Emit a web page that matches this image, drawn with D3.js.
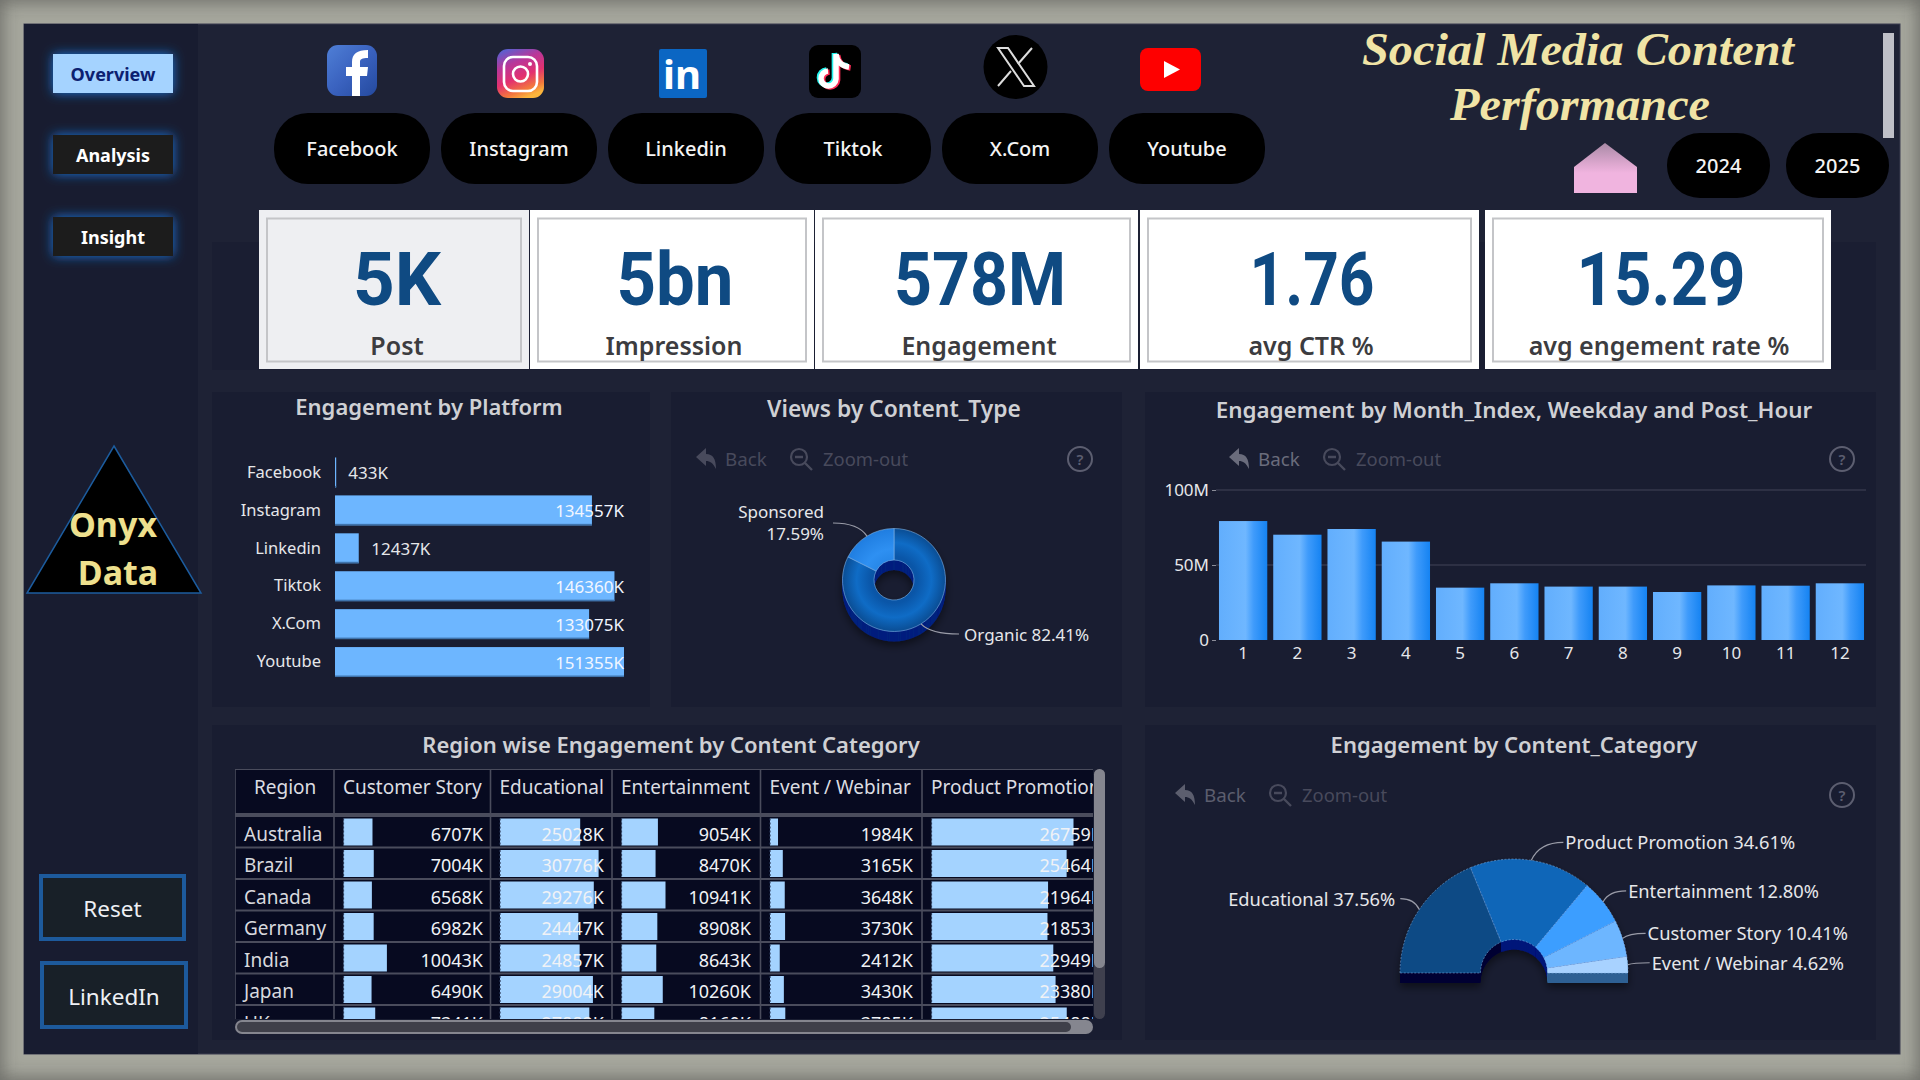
<!DOCTYPE html>
<html>
<head>
<meta charset="utf-8">
<script src="https://cdn.jsdelivr.net/npm/d3@7"></script>
<style>
  html, body { margin: 0; padding: 0; background: #a2a39a; }
  svg { display: block; }
  text { font-family: "Noto Sans", sans-serif; }
</style>
</head>
<body>
<script>
//------------------------1. DATA------------------------/
const navButtons = ["Overview", "Analysis", "Insight"];
const platformButtons = ["Facebook", "Instagram", "Linkedin", "Tiktok", "X.Com", "Youtube"];
const yearButtons = ["2024", "2025"];

const kpiValues = ["5K", "5bn", "578M", "1.76", "15.29"];
const kpiLabels = ["Post", "Impression", "Engagement", "avg CTR %", "avg engement rate %"];

const platforms = ["Facebook", "Instagram", "Linkedin", "Tiktok", "X.Com", "Youtube"];
const platformEngagement = [433, 134557, 12437, 146360, 133075, 151355]; // K

const contentTypes = ["Organic", "Sponsored"];
const contentTypeShare = [82.41, 17.59];

const months = [1, 2, 3, 4, 5, 6, 7, 8, 9, 10, 11, 12];
const monthEngagement = [79.3, 70.2, 74, 65.6, 34.9, 37.8, 35.6, 35.6, 32, 36.4, 36.2, 37.8]; // M
const monthTicks = [0, 50, 100];

const categories = ["Educational", "Product Promotion", "Entertainment", "Customer Story", "Event / Webinar"];
const categoryShare = [37.56, 34.61, 12.80, 10.41, 4.62];

const regions = ["Australia", "Brazil", "Canada", "Germany", "India", "Japan", "UK"];
const tableColumns = ["Customer Story", "Educational", "Entertainment", "Event / Webinar", "Product Promotion"];
const customerStory = [6707, 7004, 6568, 6982, 10043, 6490, 7341];
const educational = [25028, 30776, 29276, 24447, 24857, 29004, 27882];
const entertainment = [9054, 8470, 10941, 8908, 8643, 10260, 8160];
const eventWebinar = [1984, 3165, 3648, 3730, 2412, 3430, 3785];
const productPromotion = [26759, 25464, 21964, 21853, 22949, 23380, 25488];
const tableValues = [customerStory, educational, entertainment, eventWebinar, productPromotion];

//------------------------2. SVG + DEFS------------------------/
const svg = d3.select("body").append("svg")
  .attr("width", 1920)
  .attr("height", 1080)
  .attr("viewBox", "0 0 1920 1080");

const defs = svg.append("defs");

function addLinear(id, x1, y1, x2, y2, stops) {
  const g = defs.append("linearGradient").attr("id", id)
    .attr("x1", x1).attr("y1", y1).attr("x2", x2).attr("y2", y2);
  stops.forEach(s => g.append("stop").attr("offset", s[0]).attr("stop-color", s[1]));
}

function addRadial(id, r, stops) {
  const g = defs.append("radialGradient").attr("id", id)
    .attr("gradientUnits", "userSpaceOnUse")
    .attr("cx", 0).attr("cy", 0).attr("r", r);
  stops.forEach(s => g.append("stop").attr("offset", s[0]).attr("stop-color", s[1]));
}

addLinear("barGrad", 0, 0, 1, 0, [[0, "#62aefd"], [0.55, "#6fb7ff"], [0.72, "#3f9bfb"], [1, "#1583f2"]]);
addLinear("homeGrad", 0, 0, 0, 1, [[0, "#a98aa6"], [0.4, "#dba6cd"], [0.6, "#f0b4df"], [1, "#f0b4df"]]);
addLinear("instaGrad", 0.2, 0, 0.6, 1, [[0, "#5a5fd0"], [0.3, "#b8379a"], [0.6, "#e3316f"], [0.85, "#f3793c"], [1, "#fbb53c"]]);
addLinear("fbGrad", 0, 0, 1, 1, [[0, "#4f7fd6"], [0.5, "#3a62bf"], [1, "#24499e"]]);
addLinear("eventSide", 0, 0, 0, 1, [[0, "#4c86bd"], [1, "#2c5f92"]]);
addRadial("organicGrad", 52, [[0, "#0a4f9c"], [0.45, "#0a56a8"], [0.72, "#0f6cc6"], [1, "#0a4c92"]]);
addRadial("sponsoredGrad", 52, [[0, "#1b78d8"], [0.6, "#2e90f2"], [1, "#1f7de0"]]);

const glow = defs.append("filter").attr("id", "glow")
  .attr("x", "-30%").attr("y", "-60%").attr("width", "160%").attr("height", "220%");
glow.append("feDropShadow").attr("dx", 0).attr("dy", 0)
  .attr("stdDeviation", 6).attr("flood-color", "#1c78e0").attr("flood-opacity", 0.95);

const shadow = defs.append("filter").attr("id", "shadow")
  .attr("x", "-30%").attr("y", "-30%").attr("width", "160%").attr("height", "160%");
shadow.append("feDropShadow").attr("dx", 0).attr("dy", 4)
  .attr("stdDeviation", 4).attr("flood-color", "#000").attr("flood-opacity", 0.5);

const vignette = defs.append("filter").attr("id", "vignette")
  .attr("x", "-10%").attr("y", "-10%").attr("width", "120%").attr("height", "120%");
vignette.append("feGaussianBlur").attr("stdDeviation", 9);

defs.append("clipPath").attr("id", "platformClip").append("rect")
  .attr("x", 212).attr("y", 440).attr("width", 413).attr("height", 250);
defs.append("clipPath").attr("id", "tableClip").append("rect")
  .attr("x", 235).attr("y", 769).attr("width", 858).attr("height", 250);

//-----------------------------BACKDROP-----------------------------//
svg.append("rect").attr("width", 1920).attr("height", 1080).attr("fill", "#a6a79d");
svg.append("rect").attr("x", -8).attr("y", -8).attr("width", 1936).attr("height", 1096)
  .attr("fill", "none").attr("stroke", "#333").attr("stroke-width", 20)
  .attr("opacity", 0.5).attr("filter", "url(#vignette)");

svg.append("rect").attr("x", 24).attr("y", 24).attr("width", 1876).attr("height", 1030).attr("fill", "#1e2235")
  .attr("stroke", "#3a3d50").attr("stroke-width", 1);
svg.append("rect").attr("x", 24).attr("y", 24).attr("width", 174).attr("height", 1030).attr("fill", "#181c30");

// panels
svg.append("rect").attr("x", 212).attr("y", 242).attr("width", 1664).attr("height", 128).attr("fill", "#1a1e32");
[[212, 392, 438, 315], [671, 392, 451, 315], [1145, 392, 731, 315], [212, 725, 910, 315], [1145, 725, 731, 315]]
  .forEach(p => svg.append("rect").attr("x", p[0]).attr("y", p[1]).attr("width", p[2]).attr("height", p[3]).attr("fill", "#191d31"));

//-----------------------------SIDEBAR-----------------------------//
const navY = [54, 135, 217];
navButtons.forEach((b, i) => {
  svg.append("rect").attr("x", 53).attr("y", navY[i]).attr("width", 120).attr("height", 39)
    .attr("fill", i === 0 ? "#a5d3ff" : "#1b1b1e").attr("filter", "url(#glow)");
  svg.append("text").attr("x", 113).attr("y", navY[i] + 27).attr("text-anchor", "middle")
    .attr("font-size", 18).attr("font-weight", 700).attr("fill", i === 0 ? "#0c2070" : "#fff").text(b);
});

svg.append("path").attr("d", d3.line()([[114, 446], [201, 593], [27, 593]]) + "Z")
  .attr("fill", "#000").attr("stroke", "#1c5c9e").attr("stroke-width", 1.5);
svg.append("text").attr("x", 113).attr("y", 537).attr("text-anchor", "middle")
  .attr("font-size", 34).attr("font-weight", 700).attr("fill", "#eee08e").text("Onyx");
svg.append("text").attr("x", 118).attr("y", 585).attr("text-anchor", "middle")
  .attr("font-size", 34).attr("font-weight", 700).attr("fill", "#eee08e").text("Data");

[["Reset", 41, 876, 143, 63], ["LinkedIn", 42, 963, 144, 64]].forEach(b => {
  svg.append("rect").attr("x", b[1]).attr("y", b[2]).attr("width", b[3]).attr("height", b[4])
    .attr("fill", "#182028").attr("stroke", "#1d5a9c").attr("stroke-width", 4);
  svg.append("text").attr("x", b[1] + b[3] / 2).attr("y", b[2] + b[4] / 2 + 9.5).attr("text-anchor", "middle")
    .attr("font-size", 22.5).attr("fill", "#eef0f4").text(b[0]);
});

//-----------------------------ICONS-----------------------------//
// facebook
svg.append("rect").attr("x", 327).attr("y", 45).attr("width", 50).attr("height", 51).attr("rx", 11).attr("fill", "url(#fbGrad)");
svg.append("path").attr("d", "M352 96V76H346V67H352V62C352 54 357 50 368 50V58C362 58 360 59 360 62V67H368L367 76H360V96Z").attr("fill", "#fff");
// instagram
svg.append("rect").attr("x", 497).attr("y", 49).attr("width", 47).attr("height", 49).attr("rx", 11).attr("fill", "url(#instaGrad)");
svg.append("rect").attr("x", 504).attr("y", 57).attr("width", 33).attr("height", 34).attr("rx", 9).attr("fill", "none").attr("stroke", "#fff").attr("stroke-width", 2.6);
svg.append("circle").attr("cx", 520.5).attr("cy", 74).attr("r", 7.5).attr("fill", "none").attr("stroke", "#fff").attr("stroke-width", 2.6);
svg.append("circle").attr("cx", 530).attr("cy", 64).attr("r", 2).attr("fill", "#fff");
// linkedin
svg.append("rect").attr("x", 659).attr("y", 49).attr("width", 48).attr("height", 49).attr("rx", 2).attr("fill", "#0b66c3");
svg.append("text").attr("x", 682).attr("y", 89).attr("text-anchor", "middle").attr("font-size", 40).attr("font-weight", 700).attr("fill", "#fff").text("in");
// tiktok
svg.append("rect").attr("x", 809).attr("y", 45).attr("width", 52).attr("height", 53).attr("rx", 9).attr("fill", "#000");
const noteShape = "M836 54V79A7.5 7.5 0 1 1 828 71M836 54C837 62 842 66 849 67";
[["#25f4ee", -1.6, -1], ["#fe2c55", 1.6, 1], ["#fff", 0, 0]].forEach(n => {
  svg.append("path").attr("d", noteShape).attr("fill", "none").attr("stroke", n[0]).attr("stroke-width", 5.5)
    .attr("transform", "translate(" + n[1] + "," + n[2] + ")");
});
// x
svg.append("ellipse").attr("cx", 1015.5).attr("cy", 67).attr("rx", 32).attr("ry", 32).attr("fill", "#000");
svg.append("path").attr("d", "M998 48H1008L1034 86H1024Z").attr("fill", "none").attr("stroke", "#ddd").attr("stroke-width", 2);
svg.append("path").attr("d", "M1032 48L1018 64M1011 71L998 86").attr("fill", "none").attr("stroke", "#ddd").attr("stroke-width", 2);
// youtube
svg.append("rect").attr("x", 1140).attr("y", 48).attr("width", 61).attr("height", 43).attr("rx", 8).attr("fill", "#fe0000");
svg.append("path").attr("d", "M1164 61L1180 69.5L1164 78Z").attr("fill", "#fff");

//-----------------------------SLICERS-----------------------------//
const platformPillX = [274, 441, 608, 775, 942, 1109];
platformButtons.forEach((b, i) => {
  svg.append("rect").attr("x", platformPillX[i]).attr("y", 113).attr("width", 156).attr("height", 71)
    .attr("rx", 34).attr("ry", 34).attr("fill", "#000");
  svg.append("text").attr("x", platformPillX[i] + 78).attr("y", 156).attr("text-anchor", "middle")
    .attr("font-size", 20).attr("font-weight", 500).attr("fill", "#f4f4f4").text(b);
});

const yearPillX = [1667, 1786];
yearButtons.forEach((b, i) => {
  svg.append("rect").attr("x", yearPillX[i]).attr("y", 133).attr("width", 103).attr("height", 65)
    .attr("rx", 33).attr("ry", 32).attr("fill", "#000");
  svg.append("text").attr("x", yearPillX[i] + 51.5).attr("y", 173).attr("text-anchor", "middle")
    .attr("font-size", 20).attr("font-weight", 500).attr("fill", "#f4f4f4").text(b);
});

svg.append("path").attr("d", "M1605 143L1637 167V193H1574V167Z").attr("fill", "url(#homeGrad)");

svg.append("rect").attr("x", 1883).attr("y", 33).attr("width", 11).attr("height", 105).attr("fill", "#bfc0c8");

const titleFont = '"Liberation Serif", serif';
[["Social Media Content", 1578, 65, 432], ["Performance", 1580, 120, 260]].forEach(t => {
  svg.append("text").attr("x", t[1]).attr("y", t[2]).attr("text-anchor", "middle")
    .style("font-family", titleFont).style("font-style", "italic").style("font-weight", 700)
    .attr("font-size", 47).attr("fill", "#f0e4a6")
    .attr("textLength", t[3]).attr("lengthAdjust", "spacingAndGlyphs").text(t[0]);
});

//-----------------------------KPI CARDS-----------------------------//
const kpiBoxes = [[259, 270], [530, 284], [815, 323], [1140, 339], [1485, 346]];
const kpiValueX = [397, 675, 980, 1312, 1661];
const kpiValueW = [88, 117, 172, 125, 169];
const kpiLabelX = [397, 674, 979, 1311, 1659];
kpiValues.forEach((v, i) => {
  const box = kpiBoxes[i];
  svg.append("rect").attr("x", box[0]).attr("y", 210).attr("width", box[1]).attr("height", 159)
    .attr("fill", i === 0 ? "#eeeff2" : "#fff");
  svg.append("rect").attr("x", box[0] + 8).attr("y", 218.5).attr("width", box[1] - 16).attr("height", 143)
    .attr("fill", "none").attr("stroke", "#c4c5c8").attr("stroke-width", 2);
  svg.append("text").attr("x", kpiValueX[i]).attr("y", 305).attr("text-anchor", "middle")
    .style("font-family", "Roboto, sans-serif").style("font-weight", 700)
    .attr("font-size", 74).attr("fill", "#0f4a82")
    .attr("textLength", kpiValueW[i]).attr("lengthAdjust", "spacingAndGlyphs").text(v);
  svg.append("text").attr("x", kpiLabelX[i]).attr("y", 355).attr("text-anchor", "middle")
    .attr("font-size", 25).attr("font-weight", 600).attr("fill", "#3c3c40").text(kpiLabels[i]);
});

//-----------------------------HELPERS-----------------------------//
function chartTitle(label, cx, y, size) {
  svg.append("text").attr("x", cx).attr("y", y).attr("text-anchor", "middle")
    .attr("font-size", size || 22).attr("font-weight", 600).attr("fill", "#cfd0d4").text(label);
}

function toolbar(x, y, helpX, backColor) {
  const g = svg.append("g").attr("transform", "translate(" + x + "," + y + ")");
  g.append("path").attr("d", "M0 -2L10 -11V-5C17 -5 20 0 20 10C17 4 14 2 10 2V7Z").attr("fill", backColor);
  g.append("text").attr("x", 29).attr("y", 6.5).attr("font-size", 18.8).attr("fill", backColor).text("Back");
  g.append("circle").attr("cx", 103).attr("cy", -2).attr("r", 8).attr("fill", "none").attr("stroke", "#484a5c").attr("stroke-width", 2.2);
  g.append("path").attr("d", "M99 -2H107M109 4L116 11").attr("stroke", "#484a5c").attr("stroke-width", 2.4).attr("fill", "none");
  g.append("text").attr("x", 127).attr("y", 6.5).attr("font-size", 18.4).attr("fill", "#484a5c").text("Zoom-out");
  const h = svg.append("g").attr("transform", "translate(" + helpX + "," + y + ")");
  h.append("circle").attr("r", 12).attr("fill", "none").attr("stroke", "#5c5e70").attr("stroke-width", 2);
  h.append("text").attr("y", 5.5).attr("text-anchor", "middle").attr("font-size", 15).attr("font-weight", 600).attr("fill", "#5c5e70").text("?");
}

function leader(x1, y1, x2, y2) {
  // curved leader line from a slice edge to its label
  svg.append("path").attr("d", "M" + x1 + " " + y1 + "Q" + (x1 + (x2 - x1) * 0.25) + " " + y2 + " " + x2 + " " + y2)
    .attr("fill", "none").attr("stroke", "#9a9ca8").attr("stroke-width", 1.2);
}

function sliceLabel(lines, x, y, anchor, size) {
  lines.forEach((l, i) => {
    svg.append("text").attr("x", x).attr("y", y + i * 22).attr("text-anchor", anchor)
      .attr("font-size", size).attr("fill", "#e6e7ea").text(l);
  });
}

//-----------------------------ENGAGEMENT BY PLATFORM-----------------------------//
chartTitle("Engagement by Platform", 429, 415);

const platformY = d3.scaleBand().domain(platforms).range([453.5, 681]).paddingInner(0.21).paddingOuter(0.105);
const platformX = d3.scaleLinear().domain([0, d3.max(platformEngagement)]).range([335, 624]);

const platformAxis = svg.append("g").attr("transform", "translate(335,0)")
  .call(d3.axisLeft(platformY).tickSize(0).tickPadding(14));
platformAxis.select(".domain").remove();
platformAxis.selectAll("text").style("font-family", '"Noto Sans", sans-serif').attr("font-size", 16.5).attr("fill", "#e6e7ea");

const platformRows = svg.append("g").attr("clip-path", "url(#platformClip)");
platforms.forEach((p, i) => {
  const v = platformEngagement[i];
  const x1 = platformX(v);
  platformRows.append("rect").attr("x", platformX(0)).attr("y", platformY(p))
    .attr("width", Math.max(x1 - platformX(0), 1.2)).attr("height", platformY.bandwidth())
    .attr("fill", "#6db6ff");
  platformRows.append("rect").attr("x", platformX(0)).attr("y", platformY(p) + platformY.bandwidth() - 1.5)
    .attr("width", Math.max(x1 - platformX(0), 1.2)).attr("height", 1.5).attr("fill", "#3f74ad");
  const inside = x1 - platformX(0) > 100;
  platformRows.append("text")
    .attr("x", inside ? 624 : x1 + 12.5)
    .attr("y", platformY(p) + platformY.bandwidth() / 2 + 6.5)
    .attr("text-anchor", inside ? "end" : "start")
    .attr("font-size", 17).attr("fill", inside ? "#f2f6ff" : "#e6e7ea").text(v + "K");
});

//-----------------------------VIEWS BY CONTENT TYPE-----------------------------//
chartTitle("Views by Content_Type", 894, 417, 22.8);
toolbar(696, 459, 1080, "#484a5c");

const typePie = d3.pie().sort(null)(contentTypeShare);
const typeArc = d3.arc().innerRadius(20).outerRadius(51.5);
const typeG = svg.append("g").attr("transform", "translate(894,580)");
const typeBase = typeG.append("g").attr("filter", "url(#shadow)");
d3.range(10, 0, -1).forEach(dy => {
  typeBase.append("path").attr("d", typeArc({ startAngle: 0, endAngle: 2 * Math.PI }))
    .attr("transform", "translate(0," + dy + ")").attr("fill", "#04207e");
});
typeG.selectAll("path.slice").data(typePie).enter().append("path")
  .attr("class", "slice").attr("d", typeArc)
  .attr("fill", (d, i) => i === 0 ? "url(#organicGrad)" : "url(#sponsoredGrad)")
  .attr("stroke", "#7fb4e6").attr("stroke-width", 0.6);

// leaders start on the slice edge at its mid angle
const typeEdge = typePie.map(d => d3.pointRadial((d.startAngle + d.endAngle) / 2, 51.5));
leader(894 + typeEdge[1][0], 580 + typeEdge[1][1], 833, 523);
leader(894 + typeEdge[0][0], 580 + typeEdge[0][1], 959, 634);
sliceLabel([contentTypes[1], d3.format(".2f")(contentTypeShare[1]) + "%"], 824, 518, "end", 17);
sliceLabel([contentTypes[0] + " " + d3.format(".2f")(contentTypeShare[0]) + "%"], 964, 641, "start", 17);

//-----------------------------ENGAGEMENT BY MONTH-----------------------------//
chartTitle("Engagement by Month_Index, Weekday and Post_Hour", 1514, 418, 22.4);
toolbar(1229, 459, 1842, "#6a6c7c");

const monthX = d3.scaleBand().domain(months).range([1216, 1867]).paddingInner(0.11).paddingOuter(0.055);
const monthY = d3.scaleLinear().domain([0, 100]).range([640, 490]);

svg.append("g").selectAll("line").data(monthTicks.slice(1)).enter().append("line")
  .attr("x1", 1216).attr("x2", 1866)
  .attr("y1", d => monthY(d)).attr("y2", d => monthY(d))
  .attr("stroke", "#34374b").attr("stroke-width", 1.4);

const monthYAxis = svg.append("g").attr("transform", "translate(1216,0)")
  .call(d3.axisLeft(monthY).tickValues(monthTicks).tickSize(4).tickPadding(3).tickFormat(d => d ? d + "M" : "0"));
monthYAxis.select(".domain").remove();
monthYAxis.selectAll("line").attr("stroke", "#8a8c98");
monthYAxis.selectAll("text").style("font-family", '"Noto Sans", sans-serif').attr("font-size", 17).attr("fill", "#e6e7ea");

const monthXAxis = svg.append("g").attr("transform", "translate(0,640)")
  .call(d3.axisBottom(monthX).tickSize(0).tickPadding(7));
monthXAxis.select(".domain").remove();
monthXAxis.selectAll("text").style("font-family", '"Noto Sans", sans-serif').attr("font-size", 17).attr("fill", "#e6e7ea");

svg.append("g").selectAll("rect").data(monthEngagement).enter().append("rect")
  .attr("x", (d, i) => monthX(months[i]))
  .attr("y", d => monthY(d))
  .attr("width", monthX.bandwidth())
  .attr("height", d => monthY(0) - monthY(d))
  .attr("fill", "url(#barGrad)");

//-----------------------------REGION TABLE-----------------------------//
chartTitle("Region wise Engagement by Content Category", 671, 753);

const colEdges = [235, 334, 490.5, 612, 760.5, 922, 1093];
const colBarMax = [43.4, 98.6, 44, 15.3, 142];
const colTextRight = [483, 604, 751, 913, 1102];
const rowY = d3.scaleBand().domain(regions).range([816, 816 + 31.5 * regions.length]);

svg.append("rect").attr("x", 235).attr("y", 769).attr("width", 858).attr("height", 250).attr("fill", "#070a20");

const table = svg.append("g").attr("clip-path", "url(#tableClip)");

tableValues.forEach((vals, c) => {
  const barX = colEdges[c + 1] + 9.5;
  const xs = d3.scaleLinear().domain([0, d3.max(vals)]).range([0, colBarMax[c]]);
  vals.forEach((v, r) => {
    const y = rowY(regions[r]);
    table.append("rect").attr("x", barX).attr("y", y + 2.5).attr("width", xs(v)).attr("height", 27).attr("fill", "#a4d3ff");
    table.append("line").attr("x1", barX).attr("x2", barX).attr("y1", y + 2.5).attr("y2", y + 29.5)
      .attr("stroke", "#2c3a58").attr("stroke-width", 1.2).attr("stroke-dasharray", "2 2");
    table.append("text").attr("x", colTextRight[c]).attr("y", y + 24.5).attr("text-anchor", "end")
      .attr("font-size", 18).attr("fill", "#f0f2f6").text(v + "K");
  });
});

regions.forEach(r => {
  table.append("text").attr("x", 244).attr("y", rowY(r) + 24.5)
    .attr("font-size", 19).attr("fill", "#d8d9de").text(r);
});

["Region"].concat(tableColumns).forEach((h, i) => {
  table.append("text").attr("x", i === 0 ? 254 : colEdges[i] + 9).attr("y", 794)
    .attr("font-size", 19).attr("fill", "#dcdde2").text(h);
});

// grid lines
colEdges.slice(0, -1).forEach(x => {
  table.append("line").attr("x1", x).attr("x2", x).attr("y1", 769).attr("y2", 1019).attr("stroke", "#4a4c5c").attr("stroke-width", 1.6);
});
[769, 814].concat(regions.map(r => rowY(r))).forEach(y => {
  table.append("line").attr("x1", 235).attr("x2", 1093).attr("y1", y).attr("y2", y).attr("stroke", "#4a4c5c").attr("stroke-width", 1.8);
});

// scroll bars
svg.append("rect").attr("x", 1094).attr("y", 769).attr("width", 11).attr("height", 250).attr("rx", 5.5).attr("fill", "#3f404e");
svg.append("rect").attr("x", 1094).attr("y", 769).attr("width", 11).attr("height", 199).attr("rx", 5.5).attr("fill", "#85868f");
svg.append("rect").attr("x", 235).attr("y", 1020).attr("width", 858).attr("height", 14).attr("rx", 7).attr("fill", "#85868f");
svg.append("rect").attr("x", 237).attr("y", 1022).attr("width", 834).attr("height", 10).attr("rx", 5).attr("fill", "#3f404a");

//-----------------------------ENGAGEMENT BY CATEGORY-----------------------------//
chartTitle("Engagement by Content_Category", 1514, 753);
toolbar(1175, 795, 1842, "#5c5e6e");

const catColors = d3.scaleOrdinal().domain(categories).range(["#0d4a85", "#0f66b8", "#3c9eff", "#6db6ff", "#a8d2ff"]);
const catSides = d3.scaleOrdinal().domain(categories).range(["#020633", "#00147a", "#00147a", "#00147a", "url(#eventSide)"]);

const catPie = d3.pie().sort(null).startAngle(-Math.PI / 2).endAngle(Math.PI / 2)(categoryShare);
const catArc = d3.arc().innerRadius(33.5).outerRadius(114);
const catG = svg.append("g").attr("transform", "translate(1514,973)");
const catBase = catG.append("g").attr("filter", "url(#shadow)");
d3.range(10, 0, -1).forEach(dy => {
  catBase.selectAll(null).data(catPie).enter().append("path")
    .attr("d", catArc)
    .attr("transform", "translate(0," + dy + ")")
    .attr("fill", (d, i) => catSides(categories[i]));
});
catG.selectAll("path.slice").data(catPie).enter().append("path")
  .attr("class", "slice").attr("d", catArc)
  .attr("fill", (d, i) => catColors(categories[i]))
  .attr("stroke", "#8fbbe8").attr("stroke-width", 0.5).attr("stroke-dasharray", "2 1.5");

const catLabelOffset = [[-19, -11], [32, -18], [23, -11], [23, -5], [22, -2]];
catPie.forEach((d, i) => {
  const p = d3.pointRadial((d.startAngle + d.endAngle) / 2, 114);
  const x = 1514 + p[0], y = 973 + p[1];
  const o = catLabelOffset[i];
  leader(x, y, x + o[0], y + o[1]);
  const label = categories[i] + " " + d3.format(".2f")(categoryShare[i]) + "%";
  sliceLabel([label], x + o[0] + (o[0] < 0 ? -5 : 2), y + o[1] + 7, o[0] < 0 ? "end" : "start", 18.3);
});
</script>
</body>
</html>
